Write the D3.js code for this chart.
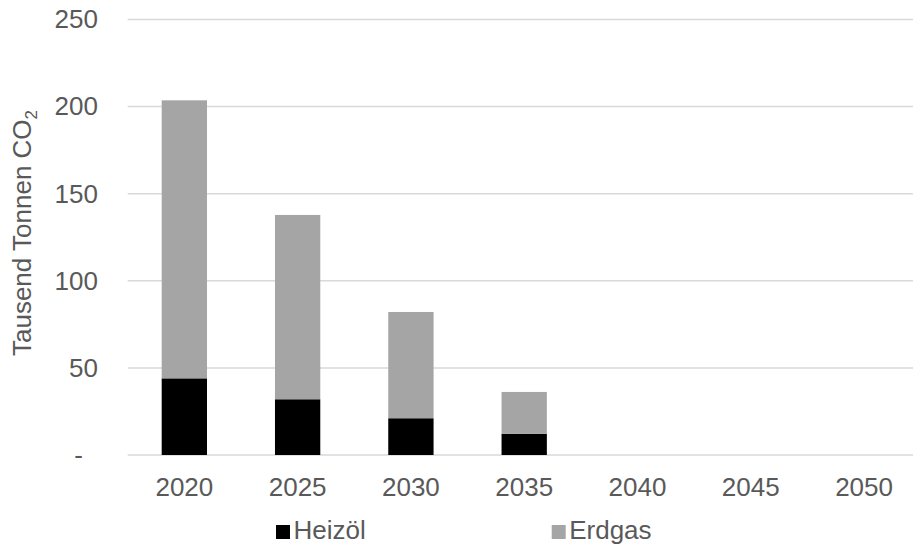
<!DOCTYPE html>
<html>
<head>
<meta charset="utf-8">
<script src="https://cdn.jsdelivr.net/npm/d3@7/dist/d3.min.js"></script>
<style>
  html, body { margin: 0; padding: 0; background: #fff; }
  svg { display: block; font-family: "Liberation Sans", Arial, sans-serif; }
</style>
</head>
<body>
<svg id="chart" width="913" height="549"></svg>
<script>
// CO2 emissions by fuel, thousand tonnes
const years = ["2020", "2025", "2030", "2035", "2040", "2045", "2050"];
const heizoel = [44.0, 32.0, 21.1, 12.2, 0, 0, 0];
const erdgas = [159.6, 105.8, 61.0, 24.0, 0, 0, 0];
const yTicks = [0, 50, 100, 150, 200, 250];
const seriesNames = ["Heizöl", "Erdgas"];
const seriesColors = ["#000000", "#a5a5a5"];

const svg = d3.select("#chart");
const textColor = "#595959";
const fontSize = 26;

const x = d3.scaleBand()
  .domain(years)
  .range([127.7, 920.7])
  .paddingInner(0.6)
  .paddingOuter(0.3);

const y = d3.scaleLinear()
  .domain([0, 250])
  .range([455, 19.5]);

// horizontal gridlines
svg.append("g")
  .selectAll("line")
  .data(yTicks)
  .join("line")
  .attr("x1", 127.7)
  .attr("x2", 913)
  .attr("y1", d => y(d))
  .attr("y2", d => y(d))
  .attr("stroke", "#d9d9d9")
  .attr("stroke-width", 1.5);

// stacked bars
const rows = years.map((yr, i) => ({ year: yr, Heizöl: heizoel[i], Erdgas: erdgas[i] }));
const stacked = d3.stack().keys(seriesNames)(rows);

svg.append("g")
  .selectAll("g")
  .data(stacked)
  .join("g")
  .attr("fill", (d, i) => seriesColors[i])
  .selectAll("rect")
  .data(d => d)
  .join("rect")
  .attr("x", d => x(d.data.year))
  .attr("width", x.bandwidth())
  .attr("y", d => y(d[1]))
  .attr("height", d => y(d[0]) - y(d[1]));

// y axis labels
const yAxis = d3.axisLeft(y)
  .tickValues(yTicks)
  .tickSize(0)
  .tickPadding(0)
  .tickFormat(d => d === 0 ? "-" : d3.format("d")(d));

const gy = svg.append("g")
  .attr("transform", "translate(98,0)")
  .call(yAxis);
gy.select(".domain").remove();
gy.selectAll("text")
  .attr("fill", textColor)
  .attr("font-size", fontSize)
  .attr("font-family", "Liberation Sans, Arial, sans-serif")
  .attr("dx", d => d === 0 ? -15 : 0);

// x axis labels
const xAxis = d3.axisBottom(x).tickSize(0).tickPadding(0);
const gx = svg.append("g")
  .attr("transform", "translate(0,455)")
  .call(xAxis);
gx.select(".domain").remove();
gx.selectAll("text")
  .attr("fill", textColor)
  .attr("font-size", fontSize)
  .attr("font-family", "Liberation Sans, Arial, sans-serif")
  .attr("dy", null)
  .attr("y", 41);

// y axis title
const title = svg.append("text")
  .attr("transform", "translate(31,233) rotate(-90)")
  .attr("text-anchor", "middle")
  .attr("fill", textColor)
  .attr("font-size", fontSize);
title.append("tspan").text("Tausend Tonnen CO");
title.append("tspan")
  .attr("font-size", 17)
  .attr("dy", 6)
  .text("2");

// legend
const legendX = [276, 551.7];
const legend = svg.append("g")
  .selectAll("g")
  .data(seriesNames)
  .join("g")
  .attr("transform", (d, i) => `translate(${legendX[i]},525)`);
legend.append("rect")
  .attr("width", 14)
  .attr("height", 14)
  .attr("fill", (d, i) => seriesColors[i]);
legend.append("text")
  .attr("x", 17.5)
  .attr("y", 14)
  .attr("fill", textColor)
  .attr("font-size", fontSize)
  .text(d => d);
</script>
</body>
</html>
